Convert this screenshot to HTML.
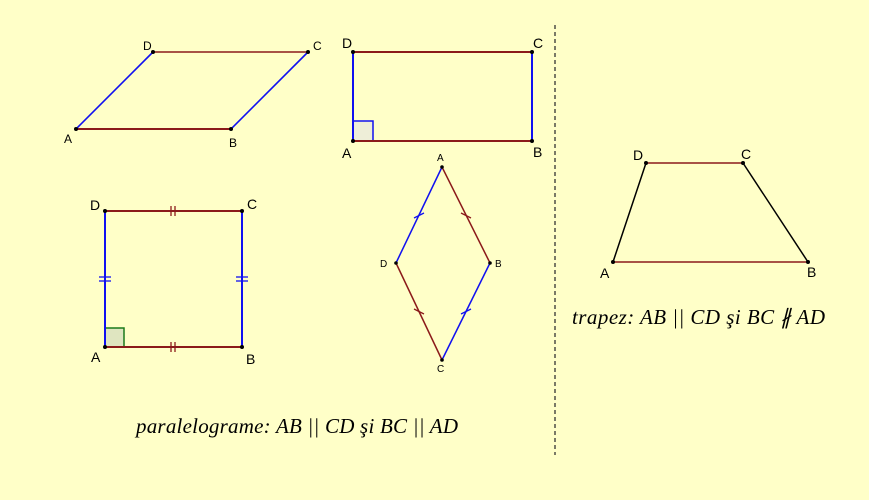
<!DOCTYPE html>
<html><head><meta charset="utf-8"><style>
body{margin:0;background:#ffffc8;}
svg{display:block}
text{font-family:"Liberation Sans",sans-serif;fill:#000}
.t{font-family:"Liberation Serif",serif;font-style:italic;font-size:21px}
</style></head><body>
<svg width="869" height="500" viewBox="0 0 869 500">
<rect width="869" height="500" fill="#ffffc8"/>
<line x1="555" y1="25" x2="555" y2="455" stroke="#333" stroke-width="1.3" stroke-dasharray="4,3"/>
<g stroke-width="2" fill="none">
<line x1="76" y1="129" x2="231" y2="129" stroke="#8b1a1a"/>
<line x1="153" y1="52" x2="308" y2="52" stroke="#8b1a1a" stroke-width="1.5"/>
<line x1="76" y1="129" x2="153" y2="52" stroke="#1010f0" stroke-width="1.6"/>
<line x1="231" y1="129" x2="308" y2="52" stroke="#1010f0" stroke-width="1.6"/>
<rect x="353" y="121" width="20" height="20" fill="#eeeed8" stroke="#1010f0" stroke-width="1.5"/>
<line x1="353" y1="52" x2="532" y2="52" stroke="#8b1a1a"/>
<line x1="353" y1="141" x2="532" y2="141" stroke="#8b1a1a"/>
<line x1="353" y1="52" x2="353" y2="141" stroke="#1010f0"/>
<line x1="532" y1="52" x2="532" y2="141" stroke="#1010f0"/>
<rect x="105" y="328" width="19" height="19" fill="#dfe5c0" stroke="#1a7a1a" stroke-width="1.5"/>
<line x1="105" y1="211" x2="242" y2="211" stroke="#8b1a1a"/>
<line x1="105" y1="347" x2="242" y2="347" stroke="#8b1a1a"/>
<line x1="105" y1="211" x2="105" y2="347" stroke="#1010f0"/>
<line x1="242" y1="211" x2="242" y2="347" stroke="#1010f0"/>
<g stroke="#8b1a1a" stroke-width="1.3">
<line x1="171" y1="206" x2="171" y2="216"/><line x1="175" y1="206" x2="175" y2="216"/>
<line x1="171" y1="342" x2="171" y2="352"/><line x1="175" y1="342" x2="175" y2="352"/>
</g>
<g stroke="#1010f0" stroke-width="1.3">
<line x1="99" y1="277" x2="111" y2="277"/><line x1="99" y1="281" x2="111" y2="281"/>
<line x1="236" y1="277" x2="248" y2="277"/><line x1="236" y1="281" x2="248" y2="281"/>
</g>
<line x1="442" y1="167" x2="396" y2="263" stroke="#1010f0" stroke-width="1.5"/>
<line x1="442" y1="167" x2="490" y2="263" stroke="#8b1a1a" stroke-width="1.5"/>
<line x1="396" y1="263" x2="442" y2="360" stroke="#8b1a1a" stroke-width="1.5"/>
<line x1="490" y1="263" x2="442" y2="360" stroke="#1010f0" stroke-width="1.5"/>
<line x1="414" y1="218" x2="424" y2="213" stroke="#1010f0" stroke-width="1.3"/>
<line x1="461" y1="213" x2="471" y2="218" stroke="#8b1a1a" stroke-width="1.3"/>
<line x1="414" y1="309" x2="424" y2="314" stroke="#8b1a1a" stroke-width="1.3"/>
<line x1="461" y1="314" x2="471" y2="309" stroke="#1010f0" stroke-width="1.3"/>
<line x1="646" y1="163" x2="743" y2="163" stroke="#8b1a1a" stroke-width="1.5"/>
<line x1="613" y1="262" x2="808" y2="262" stroke="#8b1a1a" stroke-width="1.5"/>
<line x1="613" y1="262" x2="646" y2="163" stroke="#000" stroke-width="1.5"/>
<line x1="808" y1="262" x2="743" y2="163" stroke="#000" stroke-width="1.5"/>
</g>
<g fill="#000">
<circle cx="76" cy="129" r="2"/><circle cx="231" cy="129" r="2"/><circle cx="308" cy="52" r="2"/><circle cx="153" cy="52" r="2"/>
<circle cx="353" cy="52" r="2"/><circle cx="532" cy="52" r="2"/><circle cx="353" cy="141" r="2"/><circle cx="532" cy="141" r="2"/>
<circle cx="105" cy="211" r="2"/><circle cx="242" cy="211" r="2"/><circle cx="105" cy="347" r="2"/><circle cx="242" cy="347" r="2"/>
<circle cx="442" cy="167" r="1.8"/><circle cx="490" cy="263" r="1.8"/><circle cx="442" cy="360" r="1.8"/><circle cx="396" cy="263" r="1.8"/>
<circle cx="646" cy="163" r="2"/><circle cx="743" cy="163" r="2"/><circle cx="613" cy="262" r="2"/><circle cx="808" cy="262" r="2"/>
</g>
<g font-size="12">
<text x="64" y="143">A</text><text x="229" y="147">B</text><text x="313" y="50">C</text><text x="143" y="50">D</text>
<text x="437" y="161" font-size="10">A</text><text x="495" y="267" font-size="10">B</text><text x="437" y="372" font-size="10">C</text><text x="380" y="267" font-size="10">D</text>
</g>
<g font-size="14">
<text x="342" y="48">D</text><text x="533" y="48">C</text><text x="342" y="158">A</text><text x="533" y="157">B</text>
<text x="90" y="210">D</text><text x="247" y="209">C</text><text x="91" y="362">A</text><text x="246" y="364">B</text>
<text x="633" y="160">D</text><text x="741" y="159">C</text><text x="600" y="278">A</text><text x="807" y="277">B</text>
</g>
<text class="t" x="572" y="324" textLength="253" lengthAdjust="spacing">trapez: AB || CD şi  BC ∦ AD</text>
<text class="t" x="136" y="433" textLength="322" lengthAdjust="spacing">paralelograme: AB || CD şi  BC || AD</text>
</svg>
</body></html>
